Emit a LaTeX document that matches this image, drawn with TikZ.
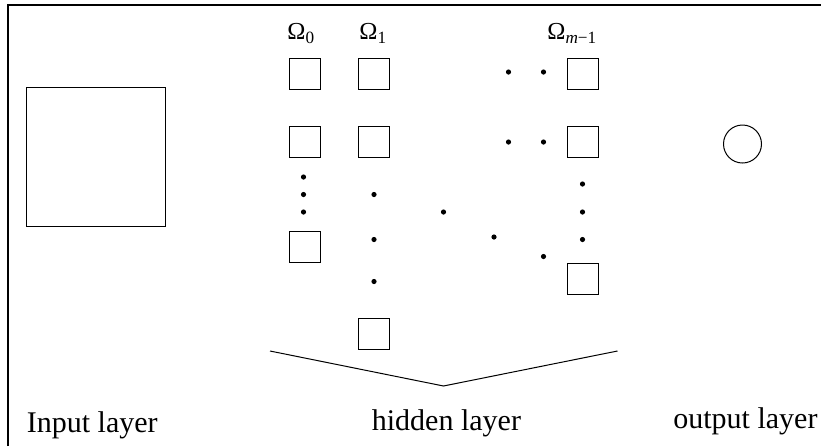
\documentclass[tikz,border=0pt]{standalone}
\usepackage{fontspec}
\setmainfont{Liberation Serif}
\newcommand{\omsub}[1]{Ω\raisebox{-0.17em}{\fontsize{8.6pt}{9pt}\selectfont #1}}
\begin{document}
\begin{tikzpicture}[x=0.5pt,y=-0.5pt,
  frameline/.style={line width=0.6pt},
  unit/.style={draw,line width=0.5pt,minimum size=15.5pt,inner sep=0pt,outer sep=0pt},
  inbox/.style={draw,line width=0.5pt,minimum size=69.5pt,inner sep=0pt},
  outnode/.style={draw,circle,line width=0.5pt,minimum size=19pt,inner sep=0pt},
  dotnode/.style={circle,fill,minimum size=2.6pt,inner sep=0pt},
  layertext/.style={font=\fontsize{15pt}{18pt}\selectfont,inner sep=0pt,anchor=base west},
  omlabel/.style={font=\fontsize{12.2pt}{14pt}\selectfont,inner sep=0pt,anchor=base west},
  bracket/.style={line width=0.5pt}]
\useasboundingbox (0,0) rectangle (821,446);
% frame
\draw[frameline] (8,446) -- (8,5) -- (821,5);
% input layer
\node[inbox] (input) at (95.5,156.5) {};
% hidden layer: column 0
\node[unit] (a0) at (304.5,73.5) {};
\node[unit] (a1) at (304.5,142) {};
\node[unit] (a2) at (304.5,246.5) {};
\node[dotnode] (da1) at (303.5,177) {};
\node[dotnode] (da2) at (303.5,194.5) {};
\node[dotnode] (da3) at (303.5,212) {};
% column 1
\node[unit] (b0) at (373.5,73.5) {};
\node[unit] (b1) at (373.5,142) {};
\node[unit] (b2) at (373.5,333.5) {};
\node[dotnode] (db1) at (374,194.5) {};
\node[dotnode] (db2) at (374,239.5) {};
\node[dotnode] (db3) at (374,281.5) {};
% column m-1
\node[unit] (c0) at (582.5,73.5) {};
\node[unit] (c1) at (582.5,142) {};
\node[unit] (c2) at (582.5,278.5) {};
\node[dotnode] (dc1) at (582.5,184) {};
\node[dotnode] (dc2) at (582.5,212) {};
\node[dotnode] (dc3) at (582.5,239.5) {};
% dots between columns
\node[dotnode] (dr1) at (508.5,72) {};
\node[dotnode] (dr2) at (543.5,72) {};
\node[dotnode] (dr3) at (508.5,142) {};
\node[dotnode] (dr4) at (543.5,142) {};
\node[dotnode] (dd1) at (443.5,212) {};
\node[dotnode] (dd2) at (494,237) {};
\node[dotnode] (dd3) at (543.5,256.5) {};
% column labels
\node[omlabel] (l0) at (287,39) {\omsub{0}};
\node[omlabel] (l1) at (359,39) {\omsub{1}};
\node[omlabel] (l2) at (547,39) {\omsub{\textit{m}−1}};
% bracket under hidden layer
\coordinate (bl) at (270,351);
\coordinate (bm) at (443.5,386);
\coordinate (br) at (617.5,351);
\draw[bracket] (bl) -- (bm) -- (br);
% output layer
\node[outnode] (out) at (742.5,144) {};
% layer names
\node[layertext] (tin) at (26.5,432.5) {Input layer};
\node[layertext] (thid) at (371.5,430) {hidden layer};
\node[layertext] (tout) at (673,428) {output layer};
\end{tikzpicture}
\end{document}
